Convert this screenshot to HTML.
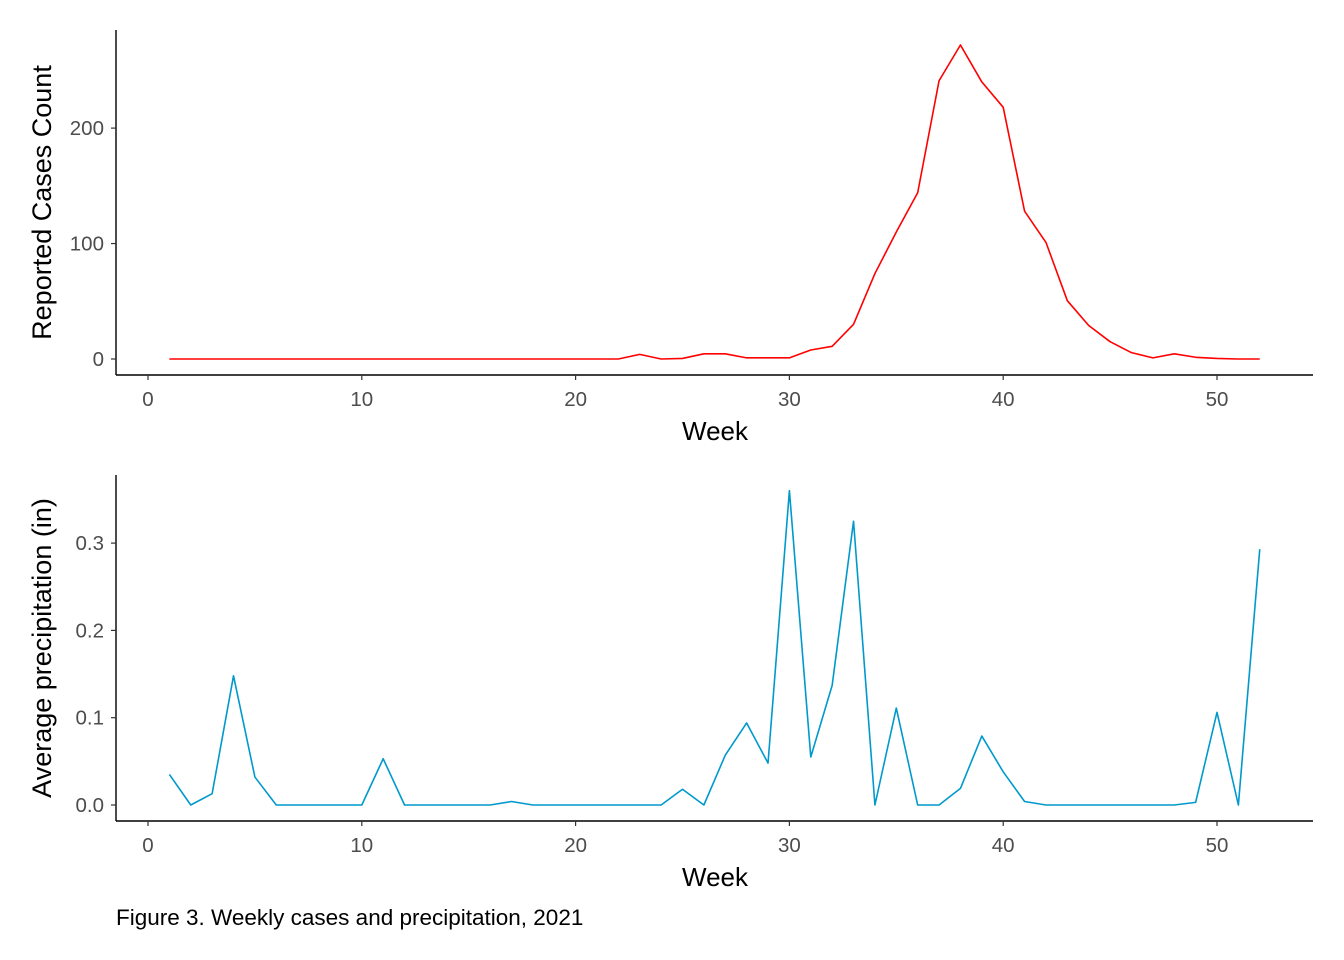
<!DOCTYPE html>
<html><head><meta charset="utf-8"><style>
html,body{margin:0;padding:0;background:#fff;}
svg{display:block;font-family:"Liberation Sans",Arial,sans-serif;}
</style></head><body>
<svg id="chart" width="1344" height="960" viewBox="0 0 1344 960">
<text x="116" y="925" font-size="22.5" fill="#000">Figure 3. Weekly cases and precipitation, 2021</text>
</svg>
<script>
const weeks = Array.from({length:52},(_,i)=>i+1);
const cases = [0,0,0,0,0,0,0,0,0,0,0,0,0,0,0,0,0,0,0,0,0,0,4,0,0.5,4.5,4.5,1,1,1,7.8,11,30,74,110,144,241,272,240,218,128,101,50.5,29,15,5.5,1,4.5,1.5,0.5,0,0];
const precip = [0.035,0,0.013,0.148,0.032,0,0,0,0,0,0.053,0,0,0,0,0,0.004,0,0,0,0,0,0,0,0.018,0,0.057,0.094,0.048,0.36,0.055,0.137,0.325,0,0.111,0,0,0.019,0.079,0.038,0.004,0,0,0,0,0,0,0,0.003,0.106,0,0.293];
const xTicks = [0,10,20,30,40,50];
const casesTicks = [0,100,200];
const precipTicks = [0.0,0.1,0.2,0.3];
const precipTickLabels = ["0.0","0.1","0.2","0.3"];

const NS="http://www.w3.org/2000/svg";
const svg=document.getElementById('chart');
function mk(tag,attrs,parent){const e=document.createElementNS(NS,tag);for(const k in attrs)e.setAttribute(k,attrs[k]);(parent||svg).appendChild(e);return e;}
const xScale=w=>148+21.38*w;

function panel(cfg){
  const g=mk('g',{});
  
  
  const y=cfg.yScale;
  const ya=mk('line',{x1:116,x2:116,y1:cfg.top,y2:cfg.bottom,stroke:'#000','stroke-width':1.4},g);
  
  
  const xa=mk('line',{x1:116,x2:1313,y1:cfg.bottom,y2:cfg.bottom,stroke:'#000','stroke-width':1.4},g);
  
  
  cfg.yTicks.forEach((v,i)=>{
    const yy=y(v);
    mk('line',{x1:111,x2:116,y1:yy,y2:yy,stroke:'#333','stroke-width':1.2},g);
    const t=mk('text',{x:104,y:yy+7,'text-anchor':'end','font-size':20.5,fill:'#4d4d4d'},g);
    t.textContent=cfg.yLabels[i];
    
    
  });
  xTicks.forEach(v=>{
    const xx=xScale(v);
    mk('line',{x1:xx,x2:xx,y1:cfg.bottom,y2:cfg.bottom+5,stroke:'#333','stroke-width':1.2},g);
    const t=mk('text',{x:xx,y:cfg.bottom+31,'text-anchor':'middle','font-size':20.5,fill:'#4d4d4d'},g);
    t.textContent=v;
    
    
  });
  const xt=mk('text',{x:715,y:cfg.bottom+65,'text-anchor':'middle','font-size':26,fill:'#000'},g);
  xt.textContent='Week';
  
  
  const cy=(cfg.top+cfg.bottom)/2;
  const yt=mk('text',{x:0,y:0,'text-anchor':'middle','font-size':27,fill:'#000',transform:`translate(51,${cy}) rotate(-90)`},g);
  yt.textContent=cfg.yTitle;
  
  
  const d=weeks.map((w,i)=>(i?'L':'M')+xScale(w).toFixed(2)+' '+y(cfg.values[i]).toFixed(2)).join(' ');
  const p=mk('path',{d:d,fill:'none',stroke:cfg.color,'stroke-width':1.6,'stroke-linejoin':'round'},g);
  
  
}
panel({name:'cases-panel',top:30,bottom:375,yScale:v=>359-1.1545*v,yTicks:casesTicks,yLabels:casesTicks.map(String),
  yTitle:'Reported Cases Count',values:cases,color:'#ff0000',lineName:'cases-line'});
panel({name:'precipitation-panel',top:475,bottom:821,yScale:v=>805-873*v,yTicks:precipTicks,yLabels:precipTickLabels,
  yTitle:'Average precipitation (in)',values:precip,color:'#0099cc',lineName:'precipitation-line'});
</script>
</body></html>
